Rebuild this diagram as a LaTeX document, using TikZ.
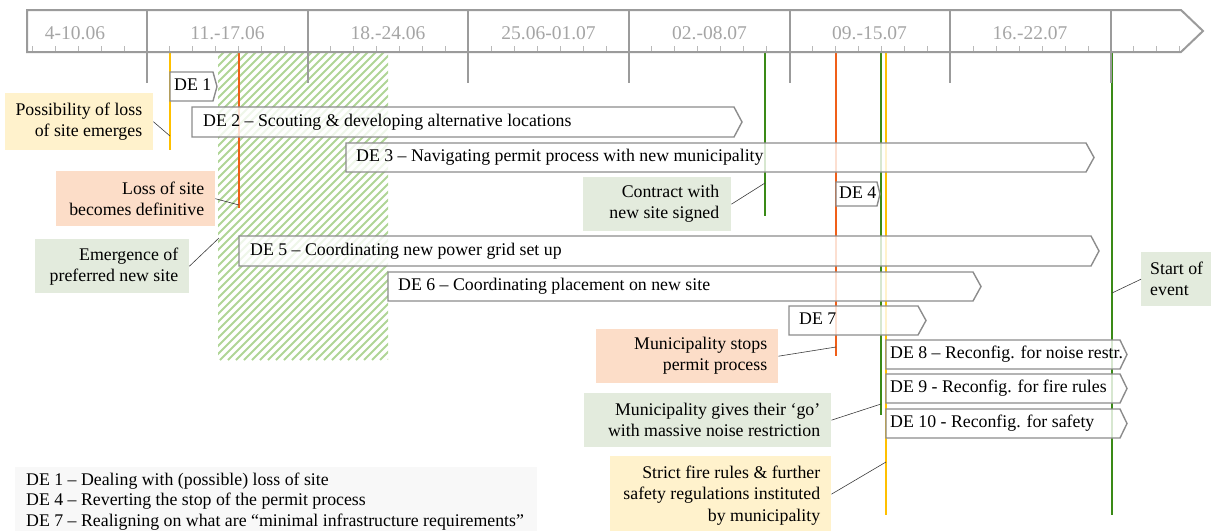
\documentclass[tikz,border=0pt]{standalone}
\usepackage{fontspec}
\setmainfont{Liberation Serif}
\newfontfamily\tnr{Liberation Serif}
\definecolor{axisgray}{RGB}{155,155,155}
\definecolor{labgray}{RGB}{165,165,165}
\definecolor{tickgray}{RGB}{185,185,185}
\definecolor{boxgray}{RGB}{140,140,140}
\definecolor{evyellow}{RGB}{255,192,0}
\definecolor{evred}{RGB}{240,95,25}
\definecolor{evgreen}{RGB}{58,138,23}
\definecolor{fillyellow}{RGB}{255,242,204}
\definecolor{fillorange}{RGB}{252,221,200}
\definecolor{fillgreen}{RGB}{227,235,221}
\definecolor{hatchgreen}{RGB}{176,213,150}
\definecolor{legendbg}{RGB}{248,248,248}
\definecolor{connline}{RGB}{60,60,60}
\newcommand\debox[8]{%
  \path[deoutline] (#2,#3) -- (#4-#6,#3) -- (#4,{(#3+#5)/2}) -- (#4-#6,#5) -- (#2,#5) -- cycle;
  \node[detext] (#1) at ({#2+#7},{(#3+#5)/2}) {#8};
}
\begin{document}
\begin{tikzpicture}[x=1pt,y=-1pt,
  every node/.style={font=\tnr\fontsize{17.8}{21}\selectfont},
  axisline/.style={draw=axisgray, line width=2pt},
  tickline/.style={draw=tickgray, line width=1pt},
  weeklabel/.style={text=labgray, font=\tnr\fontsize{19.5}{22}\selectfont, inner sep=0pt},
  evline/.style={line width=2pt},
  deoutline/.style={draw=boxgray, line width=1.4pt, fill=white, fill opacity=0.8},
  detext/.style={anchor=west, inner sep=0pt, text height=12.5pt, text depth=4pt},
  cbox/.style={inner sep=0pt, anchor=north west},
  ctext/.style={inner sep=0pt, align=right, anchor=east},
  conn/.style={draw=connline, line width=0.6pt},
  hatchline/.style={draw=hatchgreen, line width=2pt},
]
\useasboundingbox (0,0) rectangle (1215,530);

% hatched period
\begin{scope}
  \clip (218,52) rectangle (388,360);
  \foreach \i in {-92,-84,...,388} \draw[hatchline] (\i,360) -- (\i+308,52);
\end{scope}

% event lines
\draw[evline, evyellow] (170,52) -- (170,150);
\draw[evline, evred] (239,52) -- (239,208);
\draw[evline, evgreen] (765,52) -- (765,216);
\draw[evline, evred] (836,52) -- (836,356);
\draw[evline, evgreen] (881,52) -- (881,415);
\draw[evline, evyellow] (886,52) -- (886,515);
\draw[evline, evgreen] (1112,52) -- (1112,515);

% time axis
\foreach \k in {1,...,5} \draw[tickline] ({147-22.95*\k},46) -- ++(0,6);
\foreach \w in {0,...,5} \foreach \k in {1,...,6} \draw[tickline] ({147+160.67*\w+22.95*\k},46) -- ++(0,6);
\foreach \k in {1,2,3} \draw[tickline] ({1111+22.95*\k},46) -- ++(0,6);
\draw[axisline] (27,10) -- (1181,10) -- (1203,31) -- (1181,52) -- (27,52) -- cycle;
\foreach \w in {0,...,6} \draw[axisline] ({147+160.67*\w},10) -- ++(0,73);
\node[weeklabel] (w1) at (75,33) {4-10.06};
\node[weeklabel] (w2) at (227.5,33) {11.-17.06};
\node[weeklabel] (w3) at (388,33) {18.-24.06};
\node[weeklabel] (w4) at (548.5,33) {25.06-01.07};
\node[weeklabel] (w5) at (709.5,33) {02.-08.07};
\node[weeklabel] (w6) at (869.5,33) {09.-15.07};
\node[weeklabel] (w7) at (1030,33) {16.-22.07};

% DE boxes
\debox{de1}{170}{72}{217}{101}{4}{4}{DE 1}
\debox{de2}{192}{107}{742}{137}{8}{11}{DE 2 – Scouting \& developing alternative locations}
\debox{de3}{346}{143}{1094}{172}{8}{10}{DE 3 – Navigating permit process with new municipality}
\debox{de4}{836}{182}{880}{206}{3}{3}{DE 4}
\debox{de5}{239}{236}{1099}{266}{8}{11}{DE 5 – Coordinating new power grid set up}
\debox{de6}{388}{272}{981}{301}{8}{10}{DE 6 – Coordinating placement on new site}
\debox{de7}{789}{306}{926}{335}{8}{10}{DE 7}
\debox{de8}{886}{340}{1127}{369}{7}{4}{DE 8 – Reconfig. for noise restr.}
\debox{de9}{886}{374}{1127}{403}{7}{4}{DE 9 - Reconfig. for fire rules}
\debox{de10}{886}{409}{1127}{438}{7}{4}{DE 10 - Reconfig. for safety}

% connector end points on event lines
\coordinate (p1) at (170,136);
\coordinate (p2) at (239,205);
\coordinate (p3) at (219,238);
\coordinate (p4) at (765,183);
\coordinate (p5) at (1112,293);
\coordinate (p6) at (836,347);
\coordinate (p7) at (881,404);
\coordinate (p8) at (886,462);

% callout boxes
\node[cbox, fill=fillyellow, minimum width=148pt, minimum height=57pt] (c1) at (5,93) {};
\node[cbox, fill=fillorange, minimum width=159pt, minimum height=55pt] (c2) at (56,171) {};
\node[cbox, fill=fillgreen, minimum width=154pt, minimum height=54pt] (c3) at (35,239) {};
\node[cbox, fill=fillgreen, minimum width=148pt, minimum height=54pt] (c4) at (583,177) {};
\node[cbox, fill=fillgreen, minimum width=70pt, minimum height=54pt] (c5) at (1141,252) {};
\node[cbox, fill=fillorange, minimum width=182pt, minimum height=54pt] (c6) at (596,329) {};
\node[cbox, fill=fillgreen, minimum width=247pt, minimum height=54pt] (c7) at (584,393) {};
\node[cbox, fill=fillyellow, minimum width=221pt, minimum height=76pt] (c8) at (610,456) {};

% callout texts
\node[ctext] (t1) at ([xshift=-11pt]c1.east) {Possibility of loss\\of site emerges};
\node[ctext] (t2) at ([xshift=-11pt]c2.east) {Loss of site\\becomes definitive};
\node[ctext] (t3) at ([xshift=-11pt]c3.east) {Emergence of\\preferred new site};
\node[ctext] (t4) at ([xshift=-12pt]c4.east) {Contract with\\new site signed};
\node[ctext, align=left, anchor=west] (t5) at ([xshift=9pt]c5.west) {Start of\\event};
\node[ctext] (t6) at ([xshift=-11pt]c6.east) {Municipality stops\\permit process};
\node[ctext] (t7) at ([xshift=-11pt]c7.east) {Municipality gives their ‘go’\\with massive noise restriction};
\node[ctext, font=\tnr\fontsize{17.8}{21.5}\selectfont] (t8) at ([xshift=-11pt,yshift=-1pt]c8.east) {Strict fire rules \& further\\safety regulations instituted\\by municipality};

\draw[conn] (c1.east) -- (p1);
\draw[conn] (c2.east) -- (p2);
\draw[conn] (c3.east) -- (p3);
\draw[conn] (c4.east) -- (p4);
\draw[conn] (c5.west) -- (p5);
\draw[conn] (c6.east) -- (p6);
\draw[conn] (c7.east) -- (p7);
\draw[conn] (c8.east) -- (p8);

% legend
\node[cbox, fill=legendbg, minimum width=522pt, minimum height=66pt] (legend) at (15,467) {};
\node[inner sep=0pt, align=left, anchor=north west, font=\tnr\fontsize{17.8}{20.6}\selectfont] (legtext) at (26,472.5) {DE 1 – Dealing with (possible) loss of site\\DE 4 – Reverting the stop of the permit process\\DE 7 – Realigning on what are “minimal infrastructure requirements”};
\end{tikzpicture}
\end{document}
